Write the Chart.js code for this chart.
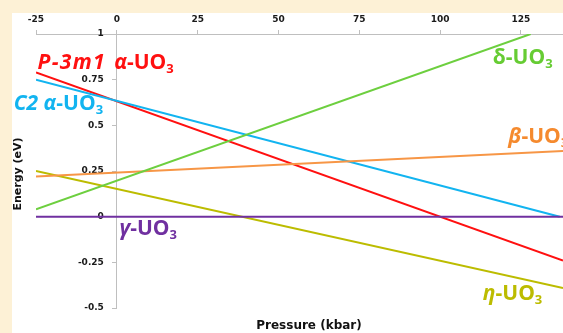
<!DOCTYPE html>
<html>
<head>
<meta charset="utf-8">
<style>
  html, body { margin: 0; padding: 0; background: #fdf1d6; }
  #wrap { width: 563px; height: 333px; position: relative; }
  canvas { display: block; }
</style>
<script src="https://cdn.jsdelivr.net/npm/chart.js@4.4.1/dist/chart.umd.min.js"></script>
</head>
<body>
<div id="wrap"><canvas id="c" width="563" height="333"></canvas></div>
<script>
// Axis ticks
const X_TICKS = [-25, 0, 25, 50, 75, 100, 125];
const Y_TICKS = [-0.5, -0.25, 0, 0.25, 0.5, 0.75, 1];

// Relative energy (eV) of each UO3 polymorph against pressure (kbar)
const GAMMA_P = [-25, 138];
const GAMMA_E = [0, 0];
const P3M1_ALPHA_P = [-25, 138];
const P3M1_ALPHA_E = [0.79, -0.24];
const C2_ALPHA_P = [-25, 137];
const C2_ALPHA_E = [0.75, 0];
const DELTA_P = [-25, 128];
const DELTA_E = [0.04, 1.0];
const BETA_P = [-25, 138];
const BETA_E = [0.22, 0.36];
const ETA_P = [-25, 138];
const ETA_E = [0.25, -0.39];

const pts = (xs, ys) => xs.map((x, i) => ({ x, y: ys[i] }));

const SERIES = [
  { name: 'γ-UO3',        p: GAMMA_P,      e: GAMMA_E,      color: '#7030a0' },
  { name: 'δ-UO3',        p: DELTA_P,      e: DELTA_E,      color: '#6dcf3f' },
  { name: 'β-UO3',        p: BETA_P,       e: BETA_E,       color: '#f79646' },
  { name: 'η-UO3',        p: ETA_P,        e: ETA_E,        color: '#bcbc00' },
  { name: 'C2 α-UO3',     p: C2_ALPHA_P,   e: C2_ALPHA_E,   color: '#12b4f0' },
  { name: 'P-3m1 α-UO3',  p: P3M1_ALPHA_P, e: P3M1_ALPHA_E, color: '#ff1010' }
];

// In-plot phase labels, anchored in data coordinates (left edge, vertical centre).
// Each part: [text, style, extra letter spacing in px]; style 'i' italic, 's' subscript.
const PHASE_LABELS = [
  { parts: [['P-3m1', 'i', 1.3], [' ', '', 3], ['α', 'i'], ['-UO', ''], ['3', 's']], x: -24.5, y: 0.842, color: '#ff1010' },
  { parts: [['C2 ', 'i'], ['α', 'i'], ['-UO', ''], ['3', 's']],    x: -31.9, y: 0.618, color: '#12b4f0' },
  { parts: [['δ', ''], ['-UO', ''], ['3', 's']],                   x: 116.3, y: 0.870, color: '#66cc33' },
  { parts: [['β', 'i'], ['-UO', ''], ['3', 's']],                  x: 121.1, y: 0.438, color: '#f58a2e' },
  { parts: [['γ', 'i'], ['-UO', ''], ['3', 's']],                  x: 0.8,   y: -0.066, color: '#7030a0' },
  { parts: [['η', 'i'], ['-UO', ''], ['3', 's']],                  x: 113.2, y: -0.421, color: '#bcbc00' }
];

const LABEL_SIZE = 21;
const LABEL_FONT = '"Open Sans", sans-serif';
const AXIS_FONT = '"DejaVu Sans", sans-serif';
const Y_LABEL_GAP = 13;   // gap between the y tick labels and the y axis line

function drawRich(ctx, parts, x, y, size, color) {
  let cx = x;
  ctx.fillStyle = color;
  ctx.textBaseline = 'middle';
  ctx.textAlign = 'left';
  for (const [t, st, sp] of parts) {
    const sub = st === 's';
    const fs = sub ? Math.round(size * 0.62) : size;
    ctx.font = (st === 'i' ? 'italic ' : '') + 'bold ' + fs + 'px ' + LABEL_FONT;
    const dy = sub ? size * 0.3 : 0;
    if (sp) {
      for (const ch of t) {
        ctx.fillText(ch, cx, y + dy);
        cx += ctx.measureText(ch).width + sp;
      }
    } else {
      ctx.fillText(t, cx, y + dy);
      cx += ctx.measureText(t).width;
    }
  }
}

const framePlugin = {
  id: 'frame',
  beforeDraw(chart) {
    const { ctx, width, height } = chart;
    ctx.save();
    ctx.fillStyle = '#fdf1d6';
    ctx.fillRect(0, 0, width, height);
    ctx.fillStyle = '#ffffff';
    ctx.fillRect(12, 13, width - 12, height - 13);
    ctx.restore();
    // the y axis sits at pressure 0; move its tick labels clear of the tick marks
    const ys = chart.scales.y;
    const items = ys.getLabelItems(chart.chartArea);
    if (!ys.$shifted) {
      items.forEach(it => { if (it.options && it.options.translation) it.options.translation[0] -= Y_LABEL_GAP; });
      ys.$shifted = true;
    }
  }
};

const annotatePlugin = {
  id: 'annotate',
  afterDraw(chart) {
    const { ctx, scales } = chart;
    const xs = scales.x, ys = scales.y;
    ctx.save();
    for (const l of PHASE_LABELS) {
      drawRich(ctx, l.parts, xs.getPixelForValue(l.x), ys.getPixelForValue(l.y), LABEL_SIZE, l.color);
    }
    // axis titles
    ctx.fillStyle = '#111111';
    ctx.textAlign = 'center';
    ctx.textBaseline = 'middle';
    ctx.font = 'bold 12px ' + AXIS_FONT;
    ctx.fillText('Pressure (kbar)', 309, 326);
    ctx.translate(18, 174);
    ctx.rotate(-Math.PI / 2);
    ctx.font = 'bold 11px ' + AXIS_FONT;
    ctx.fillText('Energy (eV)', 0, 0);
    ctx.restore();
  }
};

new Chart(document.getElementById('c'), {
  type: 'line',
  data: {
    datasets: SERIES.map(s => ({
      label: s.name,
      data: pts(s.p, s.e),
      borderColor: s.color,
      backgroundColor: s.color,
      borderWidth: 2,
      pointRadius: 0,
      tension: 0,
      fill: false
    }))
  },
  options: {
    responsive: false,
    animation: false,
    layout: { padding: { left: 36, top: 13, right: 0, bottom: 25 } },
    plugins: { legend: { display: false }, tooltip: { enabled: false } },
    scales: {
      x: {
        type: 'linear',
        position: 'top',
        min: -25,
        max: 138,
        afterBuildTicks: s => { s.ticks = X_TICKS.map(v => ({ value: v })); },
        afterFit: s => { s.height = 21; },
        grid: { drawOnChartArea: false, drawTicks: true, tickLength: 4, color: '#bfbfbf' },
        border: { color: '#bfbfbf', width: 1 },
        ticks: {
          color: '#1a1a1a',
          padding: 5,
          maxRotation: 0,
          font: { family: AXIS_FONT, weight: 'bold', size: 9 },
          callback: v => String(v)
        }
      },
      y: {
        type: 'linear',
        position: { x: 0 },
        min: -0.5,
        max: 1,
        afterBuildTicks: s => { s.ticks = Y_TICKS.map(v => ({ value: v })); },
        grid: { drawOnChartArea: false, drawTicks: true, tickLength: 4, color: '#bfbfbf' },
        border: { color: '#bfbfbf', width: 1 },
        ticks: {
          color: '#1a1a1a',
          padding: 9,
          font: { family: AXIS_FONT, weight: 'bold', size: 9 },
          callback: v => String(v)
        }
      }
    }
  },
  plugins: [framePlugin, annotatePlugin]
});
</script>
</body>
</html>
